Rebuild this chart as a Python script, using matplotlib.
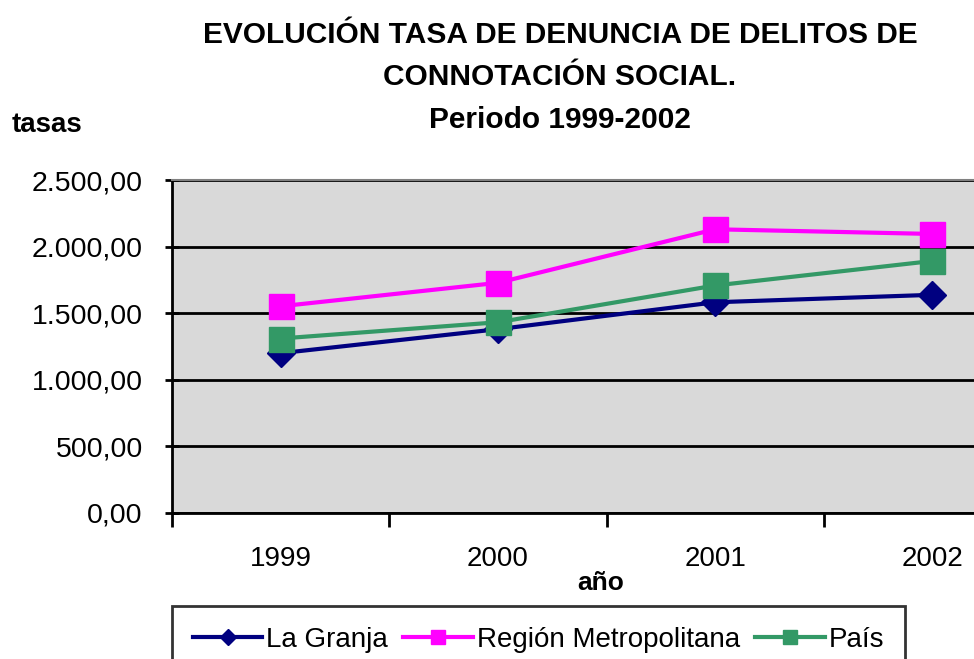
import numpy as np
import matplotlib.pyplot as plt
from matplotlib.ticker import FuncFormatter

plt.rcParams['font.family'] = ['Liberation Sans', 'DejaVu Sans']

anios = ["1999", "2000", "2001", "2002"]
la_granja = [1200, 1380, 1582, 1638]
region_metropolitana = [1552, 1728, 2130, 2095]
pais = [1310, 1432, 1708, 1892]

fig = plt.figure(figsize=(9.74, 6.59), dpi=100)
# el area del grafico original queda cortada por la derecha
ax = fig.add_axes([172/974, 1-513/659, (1041-172)/974, (513-180)/659])
ax.set_facecolor("#d9d9d9")

x = np.arange(len(anios))
ax.plot(x, la_granja, color="#000080", lw=3, marker="D", ms=14, label="La Granja")
ax.plot(x, region_metropolitana, color="#ff00ff", lw=3, marker="s", ms=18,
        label="Región Metropolitana")
ax.plot(x, pais, color="#339966", lw=3, marker="s", ms=18, label="País")

ax.set_xlim(-0.5, 3.5)
ax.set_ylim(0, 2500)
ax.set_yticks(np.arange(0, 2501, 500))
ax.yaxis.set_major_formatter(FuncFormatter(
    lambda v, p: "{:,.2f}".format(v).replace(",", "X").replace(".", ",").replace("X", ".")))
ax.yaxis.grid(True, color="black", lw=2)
ax.set_axisbelow(True)

ax.set_xticks(x)
ax.set_xticklabels(anios)
ax.set_xticks(np.arange(-0.5, 3.6, 1), minor=True)
ax.tick_params(axis="x", which="major", length=0, labelsize=20, pad=24)
ax.tick_params(axis="x", which="minor", length=10, width=2, direction="out")
ax.tick_params(axis="y", length=10, width=2, direction="inout", labelsize=20.5, pad=16)

for s in ["left", "bottom"]:
    ax.spines[s].set_linewidth(2)
ax.spines["top"].set_color("#808080")
ax.spines["top"].set_linewidth(1.5)
ax.spines["right"].set_visible(False)

for txt, yy in [("EVOLUCIÓN TASA DE DENUNCIA DE DELITOS DE", 35),
                ("CONNOTACIÓN SOCIAL.", 77),
                ("Periodo 1999-2002", 120)]:
    fig.text(560/974, 1-yy/659, txt, ha="center", va="center", fontsize=21.5, fontweight="bold")
fig.text(12/974, 1-125/659, "tasas", ha="left", va="center", fontsize=20, fontweight="bold")
fig.text(601/974, 1-583/659, "año", ha="center", va="center", fontsize=19, fontweight="bold")

# la leyenda queda cortada por abajo, como en el original
leg = fig.legend(loc="upper left", bbox_to_anchor=(172/974, 1-606/659), ncol=3, fontsize=20,
                 frameon=True, fancybox=False, edgecolor="black", handlelength=2.5,
                 handletextpad=0.15, columnspacing=0.55, borderpad=0.75, markerscale=0.55,
                 borderaxespad=0)
leg.get_frame().set_linewidth(2)

fig.savefig("out.png", dpi=100)
